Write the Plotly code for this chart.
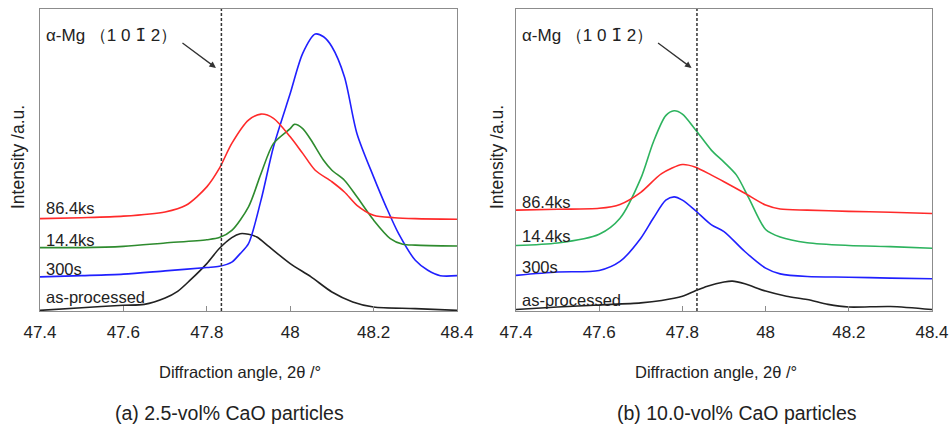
import plotly.graph_objects as go

# Diffraction angle (2θ, degrees) and intensity (a.u., offset per condition)
# Panel (a): 2.5-vol% CaO
a_black_x = [47.4, 47.5, 47.6, 47.65, 47.7, 47.73, 47.76, 47.8, 47.83, 47.86, 47.88, 47.9, 47.92, 47.95, 48.0, 48.05, 48.1, 48.15, 48.2, 48.3, 48.4]
a_black_y = [0.2, 1.1, 1.9, 2.2, 4.3, 6.5, 10.2, 15.7, 20.7, 24.3, 25.6, 25.4, 24.5, 21.2, 15.7, 11.3, 6.3, 3.0, 1.3, 0.8, 0.2]

a_blue_x = [47.4, 47.5, 47.6, 47.7, 47.8, 47.83, 47.86, 47.88, 47.9, 47.93, 47.96, 48.0, 48.03, 48.06, 48.08, 48.1, 48.13, 48.16, 48.2, 48.23, 48.26, 48.3, 48.33, 48.36, 48.4]
a_blue_y = [11.3, 11.7, 12.2, 13.3, 14.4, 14.8, 16.2, 19.0, 22.3, 36.7, 54.4, 72.0, 85.3, 91.7, 90.8, 87.5, 77.6, 58.8, 44.4, 34.5, 25.6, 16.8, 13.5, 11.7, 11.7]

a_green_x = [47.4, 47.5, 47.6, 47.7, 47.8, 47.83, 47.86, 47.9, 47.93, 47.96, 48.0, 48.01, 48.03, 48.05, 48.08, 48.1, 48.13, 48.16, 48.2, 48.24, 48.27, 48.3, 48.4]
a_green_y = [21.0, 21.0, 21.4, 22.5, 23.6, 24.3, 26.7, 34.5, 45.5, 55.5, 60.4, 61.8, 60.4, 56.6, 49.9, 46.6, 43.3, 37.8, 30.1, 24.0, 22.1, 21.8, 21.5]

a_red_x = [47.4, 47.5, 47.6, 47.7, 47.75, 47.8, 47.83, 47.86, 47.9, 47.93, 47.96, 48.0, 48.03, 48.06, 48.1, 48.13, 48.16, 48.2, 48.25, 48.3, 48.4]
a_red_y = [30.6, 30.9, 31.4, 32.8, 35.0, 41.1, 47.2, 55.5, 63.2, 65.2, 63.8, 57.7, 52.2, 46.6, 42.8, 39.4, 35.0, 31.7, 30.9, 30.6, 30.4]

# Panel (b): 10.0-vol% CaO
b_black_x = [47.4, 47.5, 47.6, 47.7, 47.75, 47.8, 47.83, 47.86, 47.9, 47.92, 47.95, 48.0, 48.05, 48.1, 48.15, 48.2, 48.3, 48.4]
b_black_y = [0.5, 1.3, 2.0, 2.7, 3.5, 4.9, 6.6, 8.2, 9.6, 9.9, 9.0, 6.6, 4.9, 3.8, 2.2, 1.3, 1.5, 0.5]

b_blue_x = [47.4, 47.5, 47.6, 47.65, 47.7, 47.73, 47.76, 47.78, 47.8, 47.83, 47.87, 47.9, 47.95, 48.0, 48.035, 48.1, 48.2, 48.3, 48.4]
b_blue_y = [11.8, 12.9, 13.4, 16.4, 24.1, 30.7, 36.7, 37.8, 36.7, 33.4, 28.5, 26.3, 19.7, 14.2, 12.3, 11.4, 11.2, 10.9, 10.7]

b_green_x = [47.4, 47.5, 47.6, 47.65, 47.7, 47.73, 47.76, 47.78, 47.8, 47.83, 47.87, 47.9, 47.93, 47.96, 48.0, 48.035, 48.1, 48.2, 48.3, 48.4]
b_green_y = [21.7, 22.5, 25.4, 30.7, 43.9, 55.9, 64.7, 66.3, 65.2, 60.3, 53.2, 49.3, 45.0, 37.3, 27.0, 24.5, 22.6, 21.7, 21.3, 20.8]

b_red_x = [47.4, 47.5, 47.6, 47.65, 47.7, 47.75, 47.8, 47.83, 47.87, 47.9, 47.95, 48.0, 48.035, 48.1, 48.2, 48.3, 48.4]
b_red_y = [33.4, 33.7, 34.0, 35.3, 39.3, 45.5, 48.5, 47.7, 45.0, 42.8, 39.0, 35.1, 33.8, 33.4, 33.0, 32.7, 32.3]

x_ticks = [47.4, 47.6, 47.8, 48.0, 48.2, 48.4]
x_tick_text = ["47.4", "47.6", "47.8", "48", "48.2", "48.4"]
peak_pos = 47.835  # alpha-Mg (10-12) reference position

series_labels = ["86.4ks", "14.4ks", "300s", "as-processed"]
label_y_a = [34, 23.5, 14, 4.5]
label_y_b = [36, 25, 14.5, 3.8]
captions = ["(a) 2.5-vol% CaO particles", "(b) 10.0-vol% CaO particles"]
plane_label = "α-Mg （1 0 <span style='font-family:DejaVu Sans'>1\u0304</span> 2）"

FONT = "Liberation Sans, Arial, sans-serif"
TXT = "#222222"
FRAME = "#8c8c8c"

fig = go.Figure()

panel_a = [(a_black_x, a_black_y, "#222222"), (a_blue_x, a_blue_y, "#2020ff"),
           (a_green_x, a_green_y, "#2e8b2e"), (a_red_x, a_red_y, "#ff2a2a")]
panel_b = [(b_black_x, b_black_y, "#222222"), (b_blue_x, b_blue_y, "#2020ff"),
           (b_green_x, b_green_y, "#2db35e"), (b_red_x, b_red_y, "#ff2a2a")]

for xs, ys, c in panel_a:
    fig.add_trace(go.Scatter(x=xs, y=ys, mode="lines", line=dict(color=c, width=1.6, shape="spline", smoothing=0.8),
                             xaxis="x", yaxis="y", showlegend=False, hoverinfo="skip"))
for xs, ys, c in panel_b:
    fig.add_trace(go.Scatter(x=xs, y=ys, mode="lines", line=dict(color=c, width=1.6, shape="spline", smoothing=0.8),
                             xaxis="x2", yaxis="y2", showlegend=False, hoverinfo="skip"))

common_x = dict(range=[47.4, 48.4], tickvals=x_ticks, ticktext=x_tick_text, ticks="inside", ticklen=5,
                tickcolor=FRAME, showline=True, linecolor=FRAME, linewidth=1.2, mirror=True,
                showgrid=False, zeroline=False, tickfont=dict(size=17, color=TXT, family=FONT),
                ticklabelstandoff=5, automargin=False)
common_y = dict(range=[0, 100], showticklabels=False, ticks="", showline=True, linecolor=FRAME,
                linewidth=1.2, mirror=True, showgrid=False, zeroline=False, automargin=False)

fig.update_layout(
    width=950, height=428, margin=dict(l=0, r=0, t=0, b=0),
    paper_bgcolor="white", plot_bgcolor="white",
    font=dict(family=FONT, color=TXT),
    xaxis=dict(domain=[40 / 950, 457 / 950], anchor="y", **common_x),
    yaxis=dict(domain=[1 - 311 / 428, 1 - 9 / 428], anchor="x", **common_y),
    xaxis2=dict(domain=[516 / 950, 932 / 950], anchor="y2", **common_x),
    yaxis2=dict(domain=[1 - 311 / 428, 1 - 9 / 428], anchor="x2", **common_y),
)

annotations = []
shapes = []
for xr, yr, lab_y, cap, ytitle_x, cap_x in [("x", "y", label_y_a, captions[0], 18, 229),
                                             ("x2", "y2", label_y_b, captions[1], 497, 737)]:
    shapes.append(dict(type="line", xref=xr, yref=yr + " domain", x0=peak_pos, x1=peak_pos, y0=0, y1=1,
                       line=dict(color="#333333", width=1.5, dash="3px,2px")))
    for text, ly in zip(series_labels, lab_y):
        annotations.append(dict(xref=xr, yref=yr, x=47.41, y=ly, text=text, showarrow=False,
                                xanchor="left", yanchor="middle", font=dict(size=16.5, color=TXT)))
    annotations.append(dict(xref=xr, yref=yr, x=47.41, y=91.5, text=plane_label, showarrow=False,
                            xanchor="left", yanchor="middle", font=dict(size=17, color=TXT)))
    annotations.append(dict(xref=xr, yref=yr, x=47.822, y=80.5, ax=-35, ay=-26, text="", showarrow=True,
                            arrowhead=2, arrowsize=1, arrowwidth=1.3, arrowcolor="#333333"))
    annotations.append(dict(xref="paper", yref="paper", x=ytitle_x / 950, y=1 - 157 / 428,
                            text="Intensity /a.u.", textangle=-90, showarrow=False,
                            xanchor="center", yanchor="middle", font=dict(size=17.5, color=TXT)))
    annotations.append(dict(xref=xr + " domain", yref="paper", x=0.48, y=1 - 372 / 428,
                            text="Diffraction angle, 2θ /°", showarrow=False,
                            xanchor="center", yanchor="middle", font=dict(size=16.5, color=TXT)))
    annotations.append(dict(xref="paper", yref="paper", x=cap_x / 950, y=1 - 413 / 428, text=cap,
                            showarrow=False, xanchor="center", yanchor="middle", font=dict(size=19.5, color=TXT)))

fig.update_layout(annotations=annotations, shapes=shapes)
fig.write_html("out.html")
